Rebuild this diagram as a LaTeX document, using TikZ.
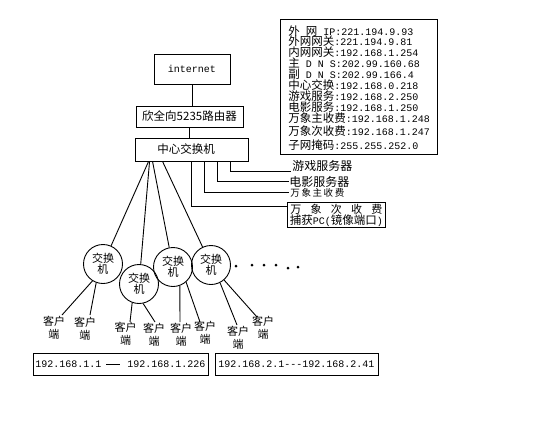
\documentclass[tikz,border=0pt]{standalone}
\usepackage{fontspec}
\setmainfont{Liberation Mono}
\newfontfamily\cjk{Noto Sans CJK SC}
\usetikzlibrary{calc}
\newcommand\zh[1]{{\cjk\fontsize{11.5}{12}\selectfont #1}}
\begin{document}
\begin{tikzpicture}[x=1pt,y=-1pt,line width=0.9pt,
  font=\fontsize{10}{12}\selectfont,
  box/.style={draw,line width=0.9pt,inner sep=0pt},
  swc/.style={draw,circle,minimum size=39pt,inner sep=0pt,align=center,font=\cjk\fontsize{11}{11.5}\selectfont},
  cl/.style={align=center,inner sep=0pt,font=\cjk\fontsize{11}{13}\selectfont},
  il/.style={anchor=west,inner sep=0pt},
  lbl/.style={anchor=west,inner sep=0pt,font=\cjk\fontsize{12}{12}\selectfont},
  dot/.style={fill=black}]
\fill[white] (0,0) rectangle (544,421);
\useasboundingbox (0,0) rectangle (544,421);

% info box
\node[box,minimum width=157pt,minimum height=135pt] (info) at (358.5,86.5) {};
\node[il] (i1) at (288,31) {\zh{外} \zh{网} IP:221.194.9.93};
\node[il] (i2) at (288,41.5) {\zh{外网网关}:221.194.9.81};
\node[il] (i3) at (288,52.5) {\zh{内网网关}:192.168.1.254};
\node[il] (i4) at (288,63) {\zh{主} D N S:202.99.160.68};
\node[il] (i5) at (288,74) {\zh{副} D N S:202.99.166.4};
\node[il] (i6) at (288,85) {\zh{中心交换}:192.168.0.218};
\node[il] (i7) at (288,96) {\zh{游戏服务}:192.168.2.250};
\node[il] (i8) at (288,107) {\zh{电影服务}:192.168.1.250};
\node[il] (i9) at (288,118.5) {\zh{万象主收费}:192.168.1.248};
\node[il] (i10) at (288,131) {\zh{万象次收费}:192.168.1.247};
\node[il] (i11) at (288,145) {\zh{子网掩码}:255.255.252.0};

% main chain
\node[box,minimum width=76pt,minimum height=30pt] (inet) at (192,69) {internet};
\node[box,minimum width=107pt,minimum height=21pt,font=\cjk\fontsize{11.5}{12}\selectfont] (rt) at (189.5,116.5) {欣全向5235路由器};
\node[box,minimum width=113pt,minimum height=23pt,font=\cjk\fontsize{11.5}{12}\selectfont] (csw) at (191.5,149.5) {\hspace{-11pt}中心交换机};
\draw (inet.south) -- (inet.south |- rt.north);
\draw (rt.south) -- (rt.south |- csw.north);

% servers
\node[lbl] (game) at (292,166) {游戏服务器};
\node[lbl] (movie) at (289,182) {电影服务器};
\node[anchor=west,inner sep=0pt,font=\cjk\fontsize{9.5}{10}\selectfont] (mainf) at (290,193) {万\,象\,主\,收\,费};
\node[box,anchor=north west,minimum width=98pt,minimum height=25pt,align=center] (secf) at (287,202)
  {\makebox[92pt][s]{\cjk\fontsize{11}{12}\selectfont 万\hfill 象\hfill 次\hfill 收\hfill 费}\\[-1pt]\zh{捕获}PC(\zh{镜像端口})};
\coordinate (g1) at (291,171);
\coordinate (m1) at (289,181.5);
\coordinate (z1) at (289,192);
\coordinate (c1) at (287,206);
\draw ($(csw.south west)+(96,0)$) |- (g1);
\draw ($(csw.south west)+(83,0)$) |- (m1);
\draw ($(csw.south west)+(70,0)$) |- (z1);
\draw ($(csw.south west)+(57,0)$) |- (c1);

% switches
\node[swc] (s1) at (103,264) {交换\\机};
\node[swc] (s2) at (139,284) {交换\\机};
\node[swc] (s3) at (173,267) {交换\\机};
\node[swc] (s4) at (211,265) {交换\\机};
\draw ($(csw.south west)+(14,0)$) -- (s1);
\draw ($(csw.south west)+(15,0)$) -- (s2);
\draw ($(csw.south west)+(18,0)$) -- (s3);
\draw ($(csw.south west)+(28,0)$) -- (s4);

% dots
\fill[dot] (236,266) circle (1.5pt);
\fill[dot] (252,265) circle (1.5pt);
\fill[dot] (264,265) circle (1.5pt);
\fill[dot] (276,265) circle (1.5pt);
\fill[dot] (288,268) circle (1.5pt);
\fill[dot] (298,267) circle (1.5pt);

% clients
\node[cl] (k1) at (54,327.5) {客户\\端};
\node[cl] (k2) at (85,329) {客户\\端};
\node[cl] (k3) at (125.5,334) {客户\\端};
\node[cl] (k4) at (154,334.5) {客户\\端};
\node[cl] (k5) at (181,335) {客户\\端};
\node[cl] (k6) at (205,332.5) {客户\\端};
\node[cl] (k7) at (238,337.5) {客户\\端};
\node[cl] (k8) at (263,327.5) {客户\\端};
\coordinate (e1) at (62,315);
\coordinate (e2) at (90,315);
\coordinate (e3) at (130,322);
\coordinate (e4) at (155,322);
\coordinate (e5) at (180,322);
\coordinate (e6) at (200,322);
\coordinate (e7) at (237,325);
\coordinate (e8) at (257,317);
\draw (s1.238) -- (e1);
\draw (s1.250) -- (e2);
\draw (s2.250) -- (e3);
\draw (s2.282) -- (e4);
\draw (s3.290) -- (e5);
\draw (s3.311) -- (e6);
\draw (s4.297) -- (e7);
\draw (s4.311) -- (e8);

% ranges
\node[box,minimum width=175pt,minimum height=22pt] (r1) at (120.5,364)
  {192.168.1.1\hspace{5pt}\rule[3pt]{14pt}{0.6pt}\hspace{7pt}192.168.1.226};
\node[box,minimum width=163pt,minimum height=22pt] (r2) at (296.5,364)
  {192.168.2.1-{}-{}-192.168.2.41};
\end{tikzpicture}
\end{document}
